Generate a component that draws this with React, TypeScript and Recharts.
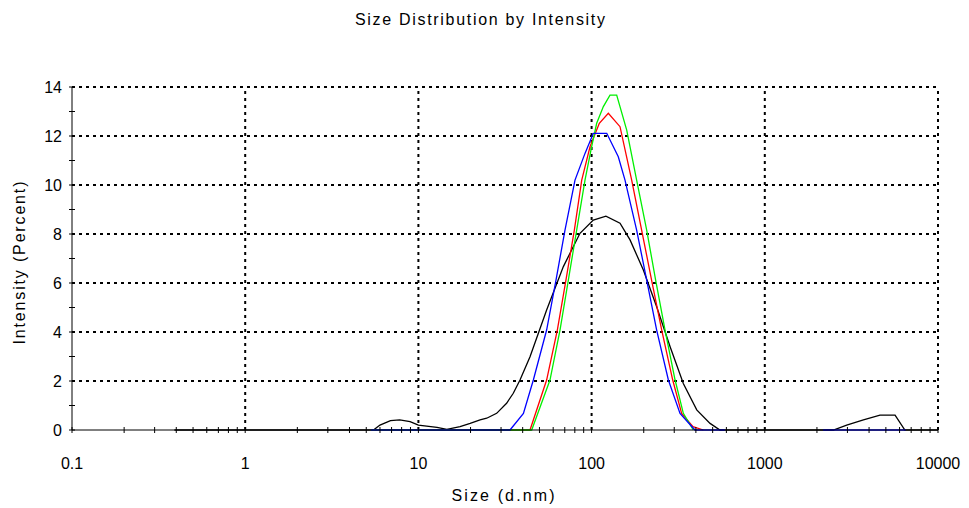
import { LineChart, Line, XAxis, YAxis, ReferenceLine } from "recharts";

// hydrodynamic size (d.nm) and intensity (%) per record
const blackSize = [0.39, 5.5, 6.0, 6.9, 7.8, 8.95, 10, 12.8, 14.6, 17.4, 19.9, 22.7, 24.8, 28.3, 32.3, 35.3, 38.6, 44.1, 55.0, 68.7, 85.7, 102.3, 121, 145.9, 166.7, 199, 237.5, 284, 338.5, 404.6, 483, 551, 2490, 2970, 3710, 4625, 5650, 6440, 10000];
const blackIntensity = [0, 0, 0.2, 0.38, 0.41, 0.34, 0.2, 0.11, 0.03, 0.14, 0.27, 0.41, 0.48, 0.68, 1.09, 1.5, 2.04, 2.99, 4.9, 6.67, 8.03, 8.57, 8.73, 8.44, 7.76, 6.53, 5.03, 3.4, 1.9, 0.82, 0.27, 0, 0, 0.2, 0.41, 0.61, 0.61, 0, 0];

const redSize = [5.3, 44.1, 55.0, 63.4, 71.1, 79.5, 87.7, 97.9, 110.8, 124.9, 145.9, 170.4, 194.5, 222, 254, 294, 331, 385, 441.6];
const redIntensity = [0, 0, 2.04, 4.08, 6.12, 8.16, 10.2, 11.56, 12.52, 12.93, 12.38, 10.2, 8.16, 6.12, 4.08, 2.04, 0.68, 0.14, 0];

const greenSize = [5.3, 45.1, 57.5, 65.7, 73.4, 82.0, 91.6, 100, 107, 116.9, 127.7, 139.6, 159.5, 182, 208, 234.3, 265.5, 303.4, 338.5, 386.5];
const greenIntensity = [0, 0, 2.04, 4.08, 6.12, 8.16, 10.2, 11.56, 12.52, 13.2, 13.67, 13.67, 12.24, 10.2, 8.16, 6.12, 4.08, 2.04, 0.68, 0];

const blueSize = [5.3, 33.8, 40.4, 46.1, 55.0, 62.3, 70.2, 80.2, 91.6, 102.3, 122.3, 142.6, 155.9, 182, 208, 237.5, 277.5, 324, 395, 588, 1000, 2170, 6500];
const blueIntensity = [0, 0, 0.68, 2.04, 4.08, 6.12, 8.16, 10.2, 11.29, 12.11, 12.11, 11.15, 10.2, 8.16, 6.12, 4.08, 2.04, 0.68, 0, 0, null, 0, 0];

const majorSizes = [0.1, 1, 10, 100, 1000, 10000];
const sizeLabels = ["0.1", "1", "10", "100", "1000", "10000"];
const minorSteps = [2, 3, 4, 5, 6, 7, 8, 9];
const xTicks = [
  ...majorSizes,
  ...majorSizes.slice(0, 5).flatMap((d) => minorSteps.map((m) => m * d)),
];
const yTicks = [0, 1, 2, 3, 4, 5, 6, 7, 8, 9, 10, 11, 12, 13, 14];
const yLabels = [0, 2, 4, 6, 8, 10, 12, 14];

const FONT = "'Liberation Sans', Arial, sans-serif";

const toPoints = (sizes: number[], values: (number | null)[]) =>
  sizes.map((size, i) => ({ size, value: values[i] }));

const series = [
  { name: "black", color: "#000000", data: toPoints(blackSize, blackIntensity) },
  { name: "red", color: "#ff0000", data: toPoints(redSize, redIntensity) },
  { name: "green", color: "#00f000", data: toPoints(greenSize, greenIntensity) },
  { name: "blue", color: "#0000ff", data: toPoints(blueSize, blueIntensity) },
];

function XTick(props: any) {
  const { x, y, payload } = props;
  const idx = majorSizes.indexOf(payload.value);
  return (
    <g>
      <line x1={x} x2={x} y1={y - 3} y2={y + 3} stroke="#000" />
      {idx >= 0 && (
        <text x={x} y={y + 39} textAnchor="middle" fontSize={16} fontFamily={FONT} fill="#000">
          {sizeLabels[idx]}
        </text>
      )}
    </g>
  );
}

function YTick(props: any) {
  const { x, y, payload } = props;
  const v = payload.value;
  return (
    <g>
      <line x1={x - 3} x2={x + 3} y1={y} y2={y} stroke="#000" />
      {yLabels.includes(v) && (
        <text x={x - 10} y={y + 6} textAnchor="end" fontSize={16} fontFamily={FONT} fill="#000">
          {v}
        </text>
      )}
    </g>
  );
}

const gridStyle = { stroke: "#000", strokeWidth: 2, strokeDasharray: "3 4" };

export default function App() {
  return (
    <div style={{ position: "absolute", left: 0, top: 0, width: 969, height: 508, background: "#fff" }}>
      <LineChart width={969} height={508} margin={{ top: 87, right: 31, left: 0, bottom: 0 }}>
        <XAxis
          dataKey="size"
          type="number"
          scale="log"
          domain={[0.1, 10000]}
          allowDataOverflow
          ticks={xTicks}
          interval={0}
          tick={<XTick />}
          tickLine={false}
          tickSize={0}
          tickMargin={0}
          height={78}
          axisLine={{ stroke: "#000" }}
        />
        <YAxis
          type="number"
          domain={[0, 14]}
          ticks={yTicks}
          interval={0}
          tick={<YTick />}
          tickLine={false}
          tickSize={0}
          tickMargin={0}
          width={72}
          axisLine={{ stroke: "#000" }}
        />
        {yLabels.slice(1).map((v) => (
          <ReferenceLine key={`h${v}`} y={v} {...gridStyle} />
        ))}
        {majorSizes.slice(1).map((v) => (
          <ReferenceLine key={`v${v}`} x={v} {...gridStyle} />
        ))}
        {series.map((s) => (
          <Line
            key={s.name}
            data={s.data}
            dataKey="value"
            type="linear"
            stroke={s.color}
            strokeWidth={1.3}
            dot={false}
            activeDot={false}
            isAnimationActive={false}
          />
        ))}
      </LineChart>
      <svg
        width={969}
        height={508}
        style={{ position: "absolute", left: 0, top: 0, pointerEvents: "none" }}
      >
        <text x={480} y={25} textAnchor="middle" fontSize={16} fontFamily={FONT} textLength={250} lengthAdjust="spacing">
          Size Distribution by Intensity
        </text>
        <text x={503} y={501} textAnchor="middle" fontSize={16} fontFamily={FONT} textLength={103} lengthAdjust="spacing">
          Size (d.nm)
        </text>
        <text
          x={0}
          y={0}
          transform="translate(25 263) rotate(-90)"
          textAnchor="middle"
          fontSize={16}
          fontFamily={FONT}
          textLength={163}
          lengthAdjust="spacing"
        >
          Intensity (Percent)
        </text>
      </svg>
    </div>
  );
}
